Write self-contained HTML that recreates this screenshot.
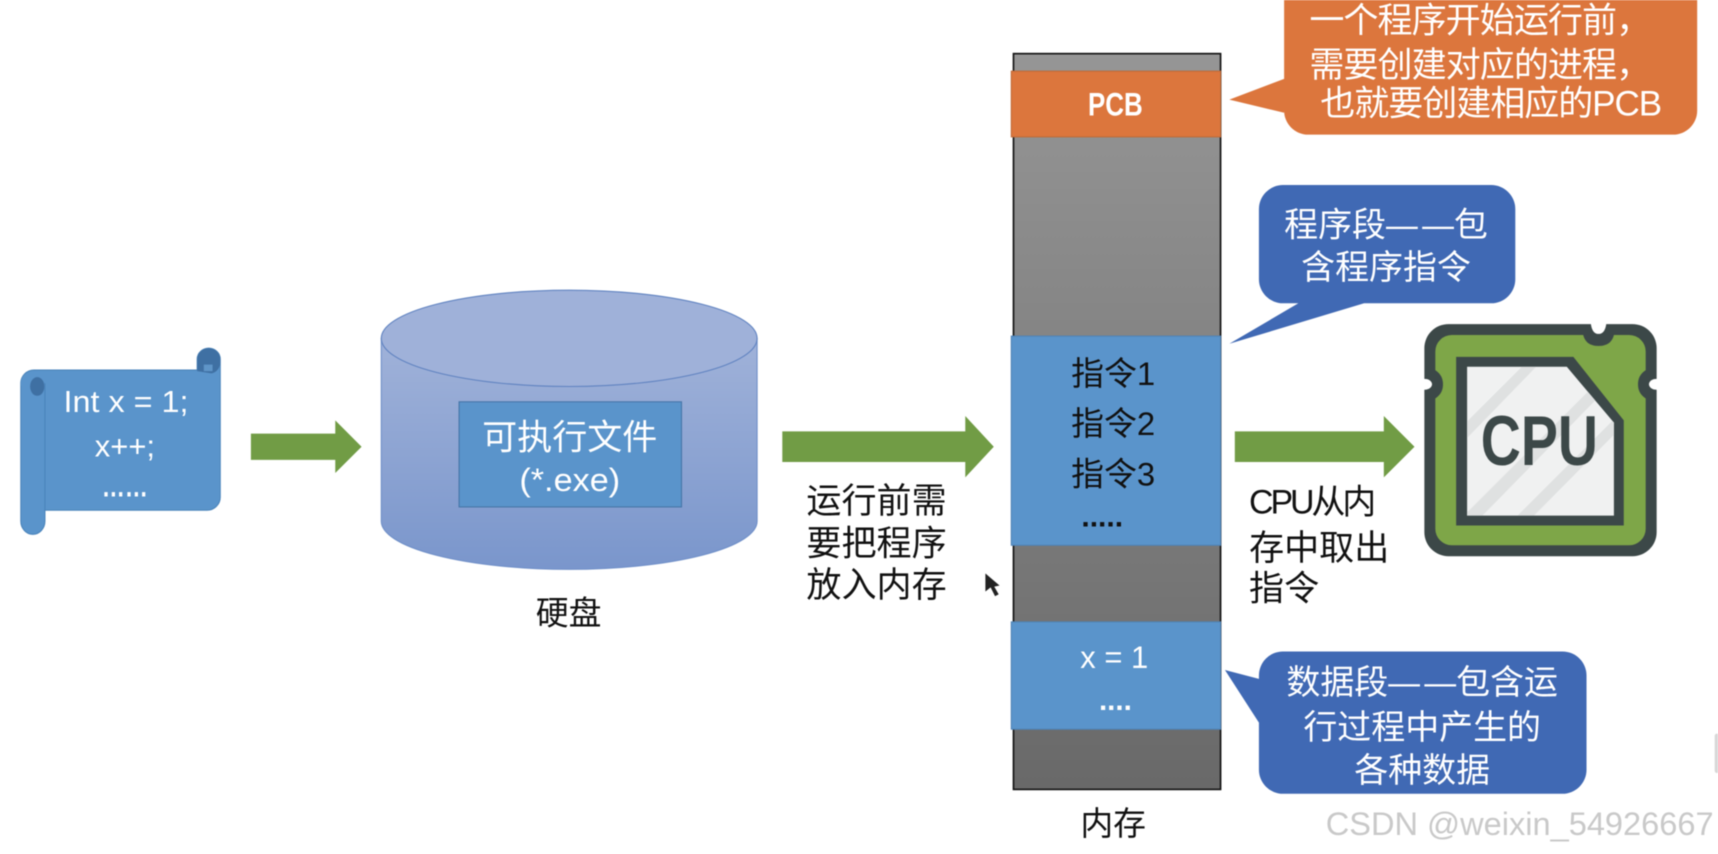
<!DOCTYPE html>
<html><head><meta charset="utf-8"><style>
html,body{margin:0;padding:0;background:#fff;width:1718px;height:854px;overflow:hidden}
svg{display:block;filter:blur(.4px)}
text{font-family:"Liberation Sans","Noto Sans CJK SC",sans-serif;dominant-baseline:central;text-anchor:middle}
.w{fill:#fff}.k{fill:#111}
</style></head><body>
<svg width="1718" height="854" viewBox="0 0 1568 780" preserveAspectRatio="none" xmlns="http://www.w3.org/2000/svg">
<defs>
<linearGradient id="cyl" x1="0" y1="0" x2="0" y2="1"><stop offset="0" stop-color="#a0b2d9"/><stop offset="1" stop-color="#7a96cc"/></linearGradient>
<linearGradient id="mem" x1="0" y1="0" x2="0" y2="1"><stop offset="0" stop-color="#969696"/><stop offset="1" stop-color="#696969"/></linearGradient>
<clipPath id="panel"><path d="M1339 335H1430L1473 386V471H1339Z"/></clipPath>
</defs>
<rect width="1568" height="780" fill="#fff"/>

<!-- scroll -->
<path d="M41 338H180V328a10.500 10 0 0 1 21 0V454a12 12 0 0 1-12 12H41V476a11 12 0 0 1-22 0V350a12 12 0 0 1 12-12Z" fill="#5a94cb" stroke="#4a84bb"/>
<path d="M180 339V328a10.500 10 0 0 1 21 0v3a10 10 0 0 1-8 10Z" fill="#3f70a3"/>
<rect x="186" y="333" width="8" height="6" fill="#5f95c8"/>
<path d="M19 350a11 11 0 0 1 22 0v6a8 8 0 0 1-11 5a11 11 0 0 1-11-11Z" fill="#5a94cb"/>
<ellipse cx="34" cy="353" rx="6.500" ry="8.500" fill="#3f70a3"/>
<line x1="41" y1="350" x2="41" y2="466" stroke="#4a84bb"/>
<text class="w" x="115" y="367" font-size="28" textLength="114" lengthAdjust="spacingAndGlyphs">Int x = 1;</text>
<text class="w" x="114" y="408" font-size="28" textLength="55" lengthAdjust="spacingAndGlyphs">x++;</text>
<text class="w" x="114" y="445" font-size="27" font-weight="700" textLength="42" lengthAdjust="spacingAndGlyphs">……</text>

<!-- arrows -->
<path d="M229 396H306V384L330 408L306 432V420H229Z" fill="#719c45"/>
<path d="M714 394H881V380L907 408L881 436V422H714Z" fill="#719c45"/>
<path d="M1127 394H1263V380L1291 408L1263 436V422H1127Z" fill="#719c45"/>

<!-- cylinder -->
<path d="M348 309V476A171.500 44 0 0 0 691 476V309Z" fill="url(#cyl)" stroke="#6f8fc8"/>
<ellipse cx="519.500" cy="309" rx="171.500" ry="44" fill="#9fb1d9" stroke="#5f82c0"/>
<rect x="419" y="367" width="203" height="96" fill="#5a94cb" stroke="#4676a8"/>
<text class="w" x="520" y="400" font-size="32">可执行文件</text>
<text class="w" x="520" y="438" font-size="30" textLength="92" lengthAdjust="spacingAndGlyphs">(*.exe)</text>
<text class="k" x="519" y="560" font-size="30">硬盘</text>

<text class="k" x="800" y="458" font-size="32">运行前需</text>
<text class="k" x="800" y="497" font-size="32">要把程序</text>
<text class="k" x="800" y="535" font-size="32">放入内存</text>

<!-- memory -->
<rect x="925" y="49" width="189" height="672" fill="url(#mem)" stroke="#111" stroke-width="1.500"/>
<rect x="923" y="65" width="191" height="60" fill="#dc763d" stroke="#c06a38"/>
<rect x="923" y="307" width="191" height="191" fill="#5a94cb" stroke="#4f83b6"/>
<rect x="923" y="568" width="191" height="98" fill="#5a94cb" stroke="#4f83b6"/>
<text class="w" x="1018" y="95" font-size="30" font-weight="700" textLength="50" lengthAdjust="spacingAndGlyphs">PCB</text>
<text class="k" x="1016" y="341" font-size="30">指令1</text>
<text class="k" x="1016" y="387" font-size="30">指令2</text>
<text class="k" x="1016" y="433" font-size="30">指令3</text>
<text class="k" x="1006" y="472" font-size="27" font-weight="700" textLength="38" lengthAdjust="spacingAndGlyphs">.....</text>
<text class="w" x="1017" y="600" font-size="29" textLength="62" lengthAdjust="spacingAndGlyphs">x = 1</text>
<text class="w" x="1018" y="640" font-size="27" font-weight="700" textLength="30" lengthAdjust="spacingAndGlyphs">....</text>
<text class="k" x="1016" y="752" font-size="30">内存</text>

<!-- orange callout -->
<path d="M1172 -10H1549V101a22 22 0 0 1-22 22H1194a22 22 0 0 1-22-22V103L1122 91L1172 72Z" fill="#dc763d"/>
<text class="w" x="1351" y="19" font-size="32" textLength="312">一个程序开始运行前，</text>
<text class="w" x="1351" y="60" font-size="32" textLength="312">需要创建对应的进程，</text>
<text class="w" x="1361" y="95" font-size="32" textLength="312">也就要创建相应的PCB</text>

<!-- blue callouts -->
<path d="M1171 169H1361a22 22 0 0 1 22 22V255a22 22 0 0 1-22 22H1245L1122 314L1185 277H1171a22 22 0 0 1-22-22V191a22 22 0 0 1 22-22Z" fill="#4069b4"/>
<text class="w" x="1265" y="206" font-size="31">程序段——包</text>
<rect x="1294" y="198" width="4" height="14" fill="#4069b4"/>
<text class="w" x="1265" y="245" font-size="31">含程序指令</text>
<path d="M1171 595H1426a22 22 0 0 1 22 22V703a22 22 0 0 1-22 22H1171a22 22 0 0 1-22-22V660L1118 612L1149 620V617a22 22 0 0 1 22-22Z" fill="#4069b4"/>
<text class="w" x="1298" y="624" font-size="31">数据段——包含运</text>
<rect x="1296" y="616" width="4" height="14" fill="#4069b4"/>
<text class="w" x="1298" y="665" font-size="31">行过程中产生的</text>
<text class="w" x="1298" y="704" font-size="31">各种数据</text>

<!-- CPU -->
<path d="M1322 296H1452C1453 303 1456 305 1459 305C1462 305 1465 303 1466 296H1490a22 22 0 0 1 22 22V346C1507 346 1505 349 1505 351C1505 353 1507 356 1512 356V486a22 22 0 0 1-22 22H1322a22 22 0 0 1-22-22V356C1305 356 1307 353 1307 351C1307 349 1305 346 1300 346V318a22 22 0 0 1 22-22Z" fill="#3c4848"/>
<path d="M1325 306H1445C1447 314 1453 316 1459 316C1465 316 1471 314 1473 306H1487a15 15 0 0 1 15 15V338C1496 342 1495 347 1495 351C1495 355 1496 360 1502 364V483a15 15 0 0 1-15 15H1325a15 15 0 0 1-15-15V364C1316 360 1317 355 1317 351C1317 347 1316 342 1310 338V321a15 15 0 0 1 15-15Z" fill="#7ea648"/>
<path d="M1329 326H1436L1482 384V480H1329Z" fill="#3c4848"/>
<path d="M1339 335H1430L1473 386V471H1339Z" fill="#f0f1f1"/>
<g clip-path="url(#panel)" fill="#dfe1e1">
<path d="M1339 385L1389 335H1402L1339 400Z"/>
<path d="M1339 468L1472 335H1486L1353 471H1339Z"/>
<path d="M1385 471L1480 376V390L1400 471Z"/>
</g>
<text x="1405" y="403" font-size="64" font-weight="700" fill="#3c4848" textLength="107" lengthAdjust="spacingAndGlyphs">CPU</text>

<text class="k" x="1198" y="459" font-size="31" textLength="116">CPU从内</text>
<text class="k" x="1204" y="501" font-size="32">存中取出</text>
<text class="k" x="1172" y="538" font-size="32">指令</text>

<!-- cursor -->
<path d="M899 523V541L904 537L908 545L912 543L908 536L913 535Z" fill="#222" stroke="#fff" stroke-width=".7"/>

<!-- watermark -->
<text x="1387" y="752" font-size="30" fill="#c9c9c9" textLength="354" lengthAdjust="spacingAndGlyphs">CSDN @weixin_54926667</text>
<rect x="1565" y="670" width="4" height="36" rx="2" fill="#d8d8d8"/>
</svg>
</body></html>
